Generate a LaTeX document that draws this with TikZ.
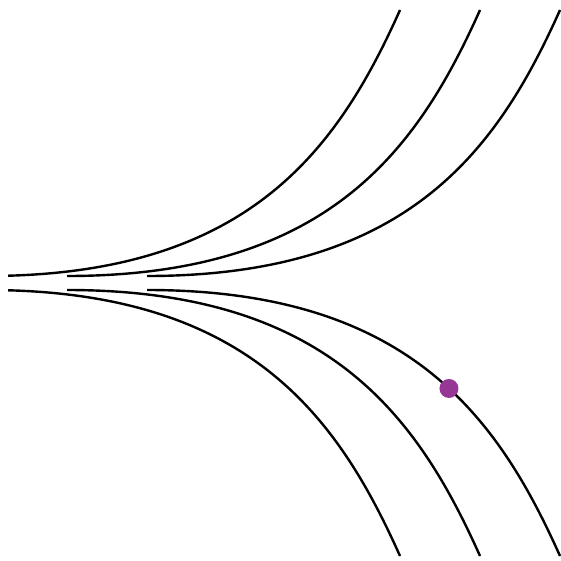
\documentclass[tikz,border=0pt]{standalone}
\definecolor{dotpurple}{RGB}{150,55,150}
\tikzset{
  traj/.style={line width=2.4pt, black},
  marker/.style={circle, fill=dotpurple, inner sep=0pt, minimum size=19pt}
}
\begin{document}
\begin{tikzpicture}[x=1pt,y=-1pt]
\useasboundingbox (0,0) rectangle (561,561);
% start / end coordinates
\coordinate (ta) at (-13,276); \coordinate (tae) at (400,10);
\coordinate (tb) at (67,276);  \coordinate (tbe) at (480,10);
\coordinate (tc) at (147,276); \coordinate (tce) at (560,10);
\coordinate (ba) at (-13,290); \coordinate (bae) at (400,556);
\coordinate (bb) at (67,290);  \coordinate (bbe) at (480,556);
\coordinate (bc) at (147,290); \coordinate (bce) at (560,556);
\begin{scope}
\clip (8,0) rectangle (561,561);
\draw[traj] (ta) .. controls +(260,0) and +(-63,141) .. (tae);
\draw[traj] (ba) .. controls +(260,0) and +(-63,-141) .. (bae);
\end{scope}
\draw[traj] (tb) .. controls +(260,0) and +(-63,141) .. (tbe);
\draw[traj] (tc) .. controls +(260,0) and +(-63,141) .. (tce);
\draw[traj] (bb) .. controls +(260,0) and +(-63,-141) .. (bbe);
\draw[traj] (bc) .. controls +(260,0) and +(-63,-141) .. node[marker, pos=0.56] (dot) {} (bce);
\end{tikzpicture}
\end{document}
